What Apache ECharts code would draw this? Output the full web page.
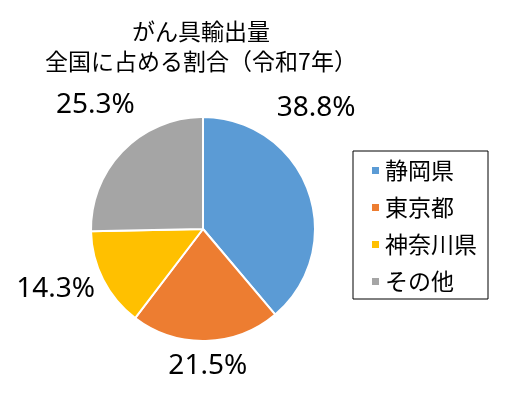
<!DOCTYPE html>
<html>
<head>
<meta charset="utf-8">
<script src="https://cdn.jsdelivr.net/npm/echarts@6/dist/echarts.min.js"></script>
<style>
  html, body { margin: 0; padding: 0; background: #fff; }
  #chart { width: 522px; height: 406px; }
</style>
</head>
<body>
<div id="chart"></div>
<script>
  // がん具輸出量 全国に占める割合（令和7年）
  var categories = ["静岡県", "東京都", "神奈川県", "その他"];
  var shares = [38.8, 21.5, 14.3, 25.3];
  var colors = ["#5B9BD5", "#ED7D31", "#FFC000", "#A5A5A5"];

  // ラベルの置き場所（円の中心から見た角度[度・時計回り]と距離[px]）
  var labelAngle = [43, 178, 248, 319];
  var labelDist = [166, 137, 159, 164];

  var CX = 203, CY = 229, R = 112;
  var FONT = "'Noto Sans CJK JP', 'Noto Sans', sans-serif";

  var chart = echarts.init(document.getElementById("chart"), null, { renderer: "canvas" });
  chart.setOption({
    animation: false,
    title: {
      text: "がん具輸出量\n全国に占める割合（令和7年）",
      left: 201, top: 16, padding: 0, textAlign: "center",
      textStyle: { fontFamily: FONT, fontSize: 23, fontWeight: "normal", color: "#000", lineHeight: 30 }
    },
    legend: {
      orient: "vertical", left: 353, top: 151,
      padding: [8, 11, 6, 17], itemGap: 14,
      itemWidth: 9, itemHeight: 9, icon: "rect",
      borderColor: "#000", borderWidth: 1,
      textStyle: { fontFamily: FONT, fontSize: 23, color: "#000" },
      data: categories
    },
    series: [{
      type: "pie",
      center: [CX, CY], radius: R,
      startAngle: 90, clockwise: true,
      itemStyle: { borderColor: "#fff", borderWidth: 2 },
      label: {
        show: true, position: "outside", overflow: "none", edgeDistance: 0,
        fontFamily: "'Noto Sans', sans-serif", fontSize: 28, color: "#000",
        formatter: function (p) { return p.value.toFixed(1) + "%"; }
      },
      labelLine: { show: false },
      labelLayout: function (p) {
        var a = labelAngle[p.dataIndex] * Math.PI / 180, d = labelDist[p.dataIndex];
        return { x: CX + d * Math.sin(a), y: CY - d * Math.cos(a), align: "center", verticalAlign: "middle" };
      },
      emphasis: { disabled: true },
      data: categories.map(function (name, i) {
        return { name: name, value: shares[i], itemStyle: { color: colors[i] } };
      })
    }]
  });
</script>
</body>
</html>
